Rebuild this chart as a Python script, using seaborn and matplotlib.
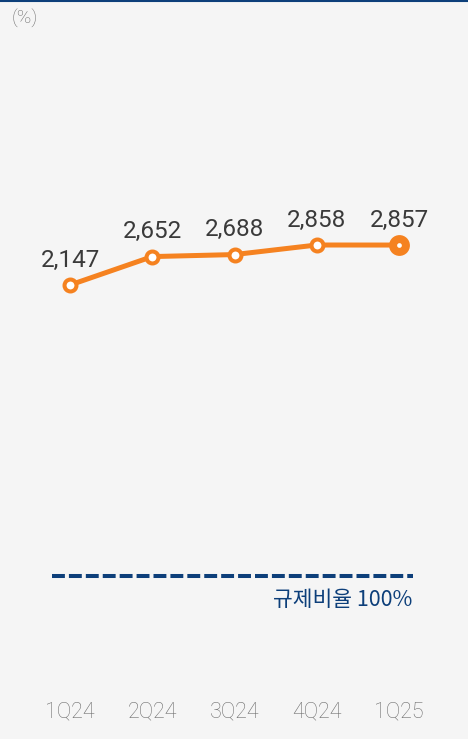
import matplotlib
matplotlib.use("Agg")
import matplotlib.pyplot as plt
import seaborn as sns
import pandas as pd
from matplotlib.lines import Line2D

quarters = ["1Q24", "2Q24", "3Q24", "4Q24", "1Q25"]
ratios = [2147, 2652, 2688, 2858, 2857]
labels = ["2,147", "2,652", "2,688", "2,858", "2,857"]
reg_ratio = 100
reg_label = "규제비율 100%"
unit_label = "(%)"

ORANGE = "#f58220"
NAVY = "#0d3f7a"
BG = "#f5f5f5"
GREY = "#6e6e6e"

sns.set_theme(style="white")
plt.rcParams["font.family"] = ["Roboto", "Noto Sans CJK KR", "DejaVu Sans"]

W, H = 468, 739
fig = plt.figure(figsize=(W / 100, H / 100), dpi=100)
fig.patch.set_facecolor(BG)

# x mapping: 0 -> 70px, 4 -> 399px
pxu = (399 - 70) / 4
xl = (-70 / pxu, (W - 70) / pxu)

# top axes: line series
ax = fig.add_axes([0, 0, 1, 1])
ax.set_facecolor("none")
ppu = 40 / 711.0
y0px = H - 285
ax.set_xlim(*xl)
ax.set_ylim(2147 - y0px / ppu, 2147 + (H - y0px) / ppu)

df = pd.DataFrame({"pos": range(len(quarters)), "ratio": ratios})
sns.lineplot(data=df, x="pos", y="ratio", ax=ax, color=ORANGE, linewidth=3.6,
             marker="o", markersize=8.6, markerfacecolor="white",
             markeredgecolor=ORANGE, markeredgewidth=2.9, zorder=3)
# emphasize last point
ax.plot([df["pos"].iloc[-1]], [df["ratio"].iloc[-1]], marker="o", markersize=15,
        color=ORANGE, markeredgewidth=0, zorder=4)
ax.plot([df["pos"].iloc[-1]], [df["ratio"].iloc[-1]], marker="o", markersize=3.4,
        color="white", markeredgewidth=0, zorder=5)

for p, v, t in zip(df["pos"], df["ratio"], labels):
    ax.annotate(t, (p, v), xytext=(0, 18), textcoords="offset points",
                ha="center", va="center", fontsize=17.5, color="#3a3a3a")

ax.set_xticks(range(len(quarters)))
ax.set_xticklabels(quarters, fontsize=15.5, color=GREY, fontweight="light")
ax.tick_params(axis="x", length=0, pad=-27)
ax.set_yticks([])
ax.set_xlabel("")
ax.set_ylabel("")
for s in ax.spines.values():
    s.set_visible(False)

# bottom axes: regulatory line
ax2 = fig.add_axes([0, 0, 1, 1])
ax2.set_facecolor("none")
ax2.set_xlim(*xl)
ax2.set_ylim(reg_ratio - (H - 576), reg_ratio + 576)
ax2.hlines(reg_ratio, (52 - 70) / pxu, (413 - 70) / pxu, colors=NAVY,
           linewidth=2.9, linestyles=(0, (3.2, 1.0)), capstyle="butt")
ax2.text((412 - 70) / pxu, reg_ratio - 24, reg_label, ha="right", va="center",
         fontsize=15.5, color=NAVY, family=["Noto Sans CJK KR", "Roboto", "DejaVu Sans"])
ax2.axis("off")

fig.text(12 / W, 1 - 18 / H, unit_label, ha="left", va="center", fontsize=14, color=GREY,
         fontweight="light")
fig.add_artist(Line2D([0, 1], [1 - 0.5 / H, 1 - 0.5 / H], transform=fig.transFigure,
                      color=NAVY, linewidth=1.5))

fig.savefig("out.png", dpi=100, facecolor=BG)
